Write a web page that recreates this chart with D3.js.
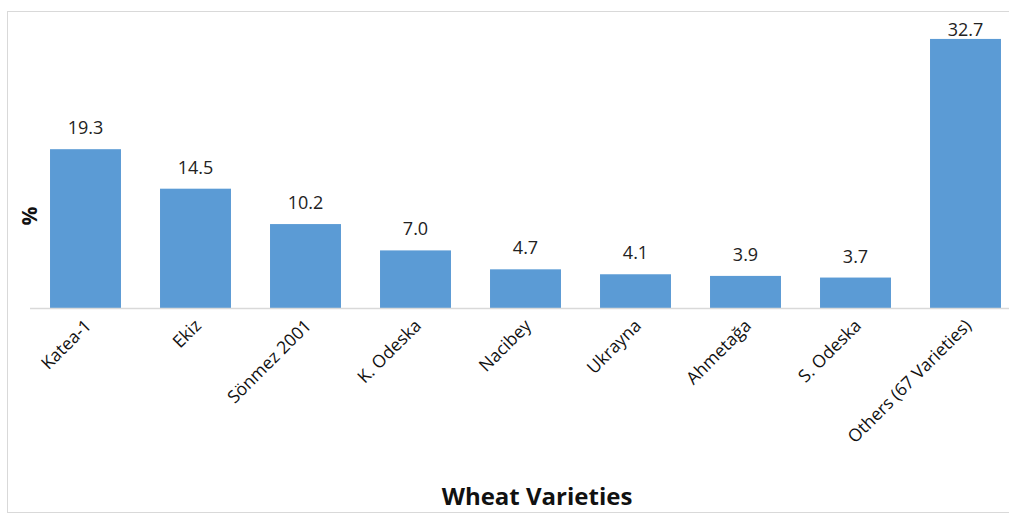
<!DOCTYPE html>
<html>
<head>
<meta charset="utf-8">
<script src="https://cdn.jsdelivr.net/npm/d3@7"></script>
<style>
  body { margin: 0; background: #fff; }
  svg { display: block; font-family: "Open Sans", "Noto Sans", sans-serif; }
</style>
</head>
<body>
<svg id="chart" width="1009" height="515"></svg>
<script>
// data
var varieties = ["Katea-1", "Ekiz", "Sönmez 2001", "K. Odeska", "Nacibey", "Ukrayna", "Ahmetağa", "S. Odeska", "Others (67 Varieties)"];
var shares = [19.3, 14.5, 10.2, 7.0, 4.7, 4.1, 3.9, 3.7, 32.7];
var yMax = 35;

var svg = d3.select("#chart");
var plotTop = 20, base = 308;

// outer frame
svg.append("rect")
    .attr("x", 7.5).attr("y", 11.5)
    .attr("width", 1010).attr("height", 501)
    .attr("fill", "none")
    .attr("stroke", "#d9d9d9");

var x = d3.scaleBand()
    .domain(varieties)
    .range([30.5, 1020.5])
    .paddingInner(0.355)
    .paddingOuter(0.1775);

var y = d3.scaleLinear()
    .domain([0, yMax])
    .range([base, plotTop]);

var rows = varieties.map(function(v, i) { return {name: v, val: shares[i]}; });

svg.selectAll("rect.bar")
    .data(rows)
    .enter().append("rect")
    .attr("class", "bar")
    .attr("x", function(d) { return x(d.name); })
    .attr("y", function(d) { return y(d.val); })
    .attr("width", x.bandwidth())
    .attr("height", function(d) { return base - y(d.val); })
    .attr("fill", "#5b9bd5");

// category axis line
svg.append("line")
    .attr("x1", 30).attr("x2", 1009)
    .attr("y1", base + 0.5).attr("y2", base + 0.5)
    .attr("stroke", "#d9d9d9")
    .attr("stroke-width", 1.5);

// value labels (kept inside plot area like excel does)
svg.selectAll("text.val")
    .data(rows)
    .enter().append("text")
    .attr("class", "val")
    .attr("x", function(d) { return x(d.name) + x.bandwidth() / 2; })
    .attr("y", function(d) { return Math.max(y(d.val) - 15, plotTop + 16); })
    .attr("text-anchor", "middle")
    .attr("font-size", 18)
    .attr("fill", "#222")
    .text(function(d) { return d.val.toFixed(1); });

// rotated category labels
svg.selectAll("text.cat")
    .data(rows)
    .enter().append("text")
    .attr("class", "cat")
    .attr("transform", function(d) {
        var cx = x(d.name) + x.bandwidth() / 2;
        return "translate(" + (cx - 2) + "," + (base + 10) + ") rotate(-45)";
    })
    .attr("dy", "0.71em")
    .attr("text-anchor", "end")
    .attr("font-size", 17.5)
    .attr("fill", "#111")
    .text(function(d) { return d.name; });

// axis titles
svg.append("text")
    .attr("transform", "translate(37,216) rotate(-90)")
    .attr("text-anchor", "middle")
    .attr("font-size", 21)
    .attr("font-weight", "bold")
    .attr("fill", "#111")
    .text("%");

svg.append("text")
    .attr("x", 537).attr("y", 505)
    .attr("text-anchor", "middle")
    .attr("font-size", 24)
    .attr("font-weight", "bold")
    .attr("fill", "#111")
    .text("Wheat Varieties");
</script>
</body>
</html>
